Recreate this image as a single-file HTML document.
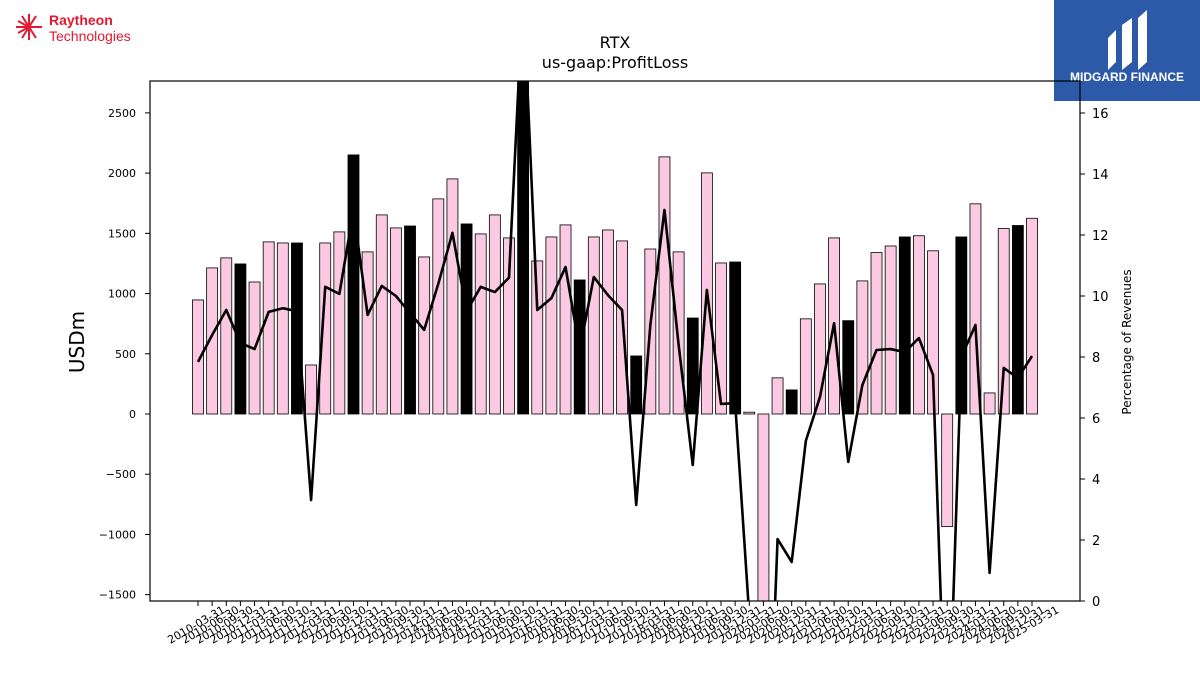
<!DOCTYPE html>
<html><head><meta charset="utf-8"><style>
html,body{margin:0;padding:0;background:#fff;width:1200px;height:675px;overflow:hidden;font-family:"Liberation Sans","DejaVu Sans",sans-serif}
svg{display:block}
</style></head><body>
<svg width="1200" height="675" xmlns="http://www.w3.org/2000/svg" id="svg" font-family="DejaVu Sans, Liberation Sans, sans-serif" overflow="hidden">
<defs><clipPath id="plotclip"><rect x="150" y="81" width="930" height="520"/></clipPath></defs>
<g>
<g transform="translate(29,27)" stroke="#e0192f" stroke-width="2">
<line x1="0" y1="0" x2="-13" y2="0"/><line x1="0" y1="0" x2="-11" y2="-6"/><line x1="0" y1="0" x2="-7" y2="-11"/><line x1="0" y1="0" x2="0" y2="-13"/><line x1="0" y1="0" x2="7" y2="-11"/><line x1="0" y1="0" x2="-11" y2="6"/><line x1="0" y1="0" x2="-7" y2="11"/><line x1="0" y1="0" x2="0" y2="13"/><line x1="0" y1="0" x2="7" y2="11"/><line x1="0" y1="0" x2="13" y2="0"/></g>
<text x="49" y="25" font-size="14" font-weight="bold" fill="#e0192f" font-family="Liberation Sans">Raytheon</text>
<text x="49" y="41" font-size="14" fill="#e0192f" font-family="Liberation Sans">Technologies</text>
</g>
<g>
<rect x="1054" y="0" width="146" height="101" fill="#2d5aa8"/>
<path d="M1108 70 L1108 38 L1116 30 L1116 62 Z M1122 70 L1122 25 L1132 18 L1132 62 Z M1138 70 L1138 18 L1147 10 L1147 62 Z" fill="#fff"/>
<text x="1127" y="81" font-size="12" font-weight="bold" fill="#fff" text-anchor="middle" font-family="Liberation Sans">MIDGARD FINANCE</text>
</g>
<text x="615" y="48" font-size="16" text-anchor="middle">RTX</text>
<text x="615" y="68" font-size="16" text-anchor="middle">us-gaap:ProfitLoss</text>
<text transform="translate(84,342) rotate(-90)" font-size="20" text-anchor="middle">USDm</text>
<text transform="translate(1131,342) rotate(-90)" font-size="12" text-anchor="middle">Percentage of Revenues</text>
<g id="bars" clip-path="url(#plotclip)"></g>
<g id="line" clip-path="url(#plotclip)"></g>
<g id="axes"></g>
<rect x="150" y="81" width="930" height="520" fill="none" stroke="#000" stroke-width="1.2"/>
</svg>
<script>
const categories=["2010-03-31","2010-06-30","2010-09-30","2010-12-31","2011-03-31","2011-06-30","2011-09-30","2011-12-31","2012-03-31","2012-06-30","2012-09-30","2012-12-31","2013-03-31","2013-06-30","2013-09-30","2013-12-31","2014-03-31","2014-06-30","2014-09-30","2014-12-31","2015-03-31","2015-06-30","2015-09-30","2015-12-31","2016-03-31","2016-06-30","2016-09-30","2016-12-31","2017-03-31","2017-06-30","2017-09-30","2017-12-31","2018-03-31","2018-06-30","2018-09-30","2018-12-31","2019-06-30","2019-09-30","2019-12-31","2020-03-31","2020-06-30","2020-09-30","2020-12-31","2021-03-31","2021-06-30","2021-09-30","2021-12-31","2022-03-31","2022-06-30","2022-09-30","2022-12-31","2023-03-31","2023-06-30","2023-09-30","2023-12-31","2024-03-31","2024-06-30","2024-09-30","2024-12-31","2025-03-31"];
const profitLoss=[947,1213,1296,1246,1096,1429,1420,1420,407,1420,1512,2151,1346,1653,1545,1561,1304,1786,1952,1578,1495,1653,1462,3000,1271,1470,1570,1113,1470,1528,1437,482,1370,2135,1346,797,2002,1254,1262,15,-3800,300,200,790,1080,1462,775,1105,1340,1395,1470,1480,1355,-935,1470,1745,175,1540,1565,1625];
const pctRevenue=[7.84,8.72,9.54,8.46,8.26,9.48,9.6,9.5,3.31,10.3,10.07,12.8,9.38,10.33,10.0,9.44,8.89,10.4,12.07,9.5,10.3,10.13,10.6,20,9.54,9.93,10.95,8.23,10.62,10.03,9.54,3.15,9.05,12.82,8.4,4.46,10.2,6.46,6.49,-0.5,-10,2.03,1.28,5.25,6.69,9.11,4.56,7.08,8.23,8.26,8.16,8.62,7.41,-6,8.0,9.05,0.92,7.64,7.31,8.03];
const leftTicks=[-1500,-1000,-500,0,500,1000,1500,2000,2500];
const rightTicks=[0,2,4,6,8,10,12,14,16];
const NS="http://www.w3.org/2000/svg";
const x=i=>198+i*(834/59);
const yL=v=>414-v*0.12044;
const yR=v=>601-v*30.5;
function mk(t,a,p){const e=document.createElementNS(NS,t);for(const k in a)e.setAttribute(k,a[k]);p.appendChild(e);return e;}
const bars=document.getElementById('bars'),line=document.getElementById('line'),axes=document.getElementById('axes');
profitLoss.forEach((v,i)=>{
 const q4=categories[i].endsWith("12-31");
 const y0=yL(0),y1=yL(v);
 const r=mk('rect',{x:x(i)-5.5,y:Math.min(y0,y1),width:11,height:Math.abs(y1-y0),fill:q4?'#000':'#fcc9e3',stroke:'#000','stroke-width':0.8},bars);
 
 
});
const pl=mk('polyline',{points:pctRevenue.map((v,i)=>x(i)+','+yR(v)).join(' '),fill:'none',stroke:'#000','stroke-width':2.6,'stroke-linejoin':'round'},line);


leftTicks.forEach(t=>{
 const y=yL(t);
 mk('line',{x1:145,x2:150,y1:y,y2:y,stroke:'#000'},axes);
 const tx=mk('text',{x:136,y:y+4,'font-size':11,'text-anchor':'end'},axes);
 tx.textContent=t<0?'\u2212'+Math.abs(t):String(t);
 
 
});
rightTicks.forEach(t=>{
 const y=yR(t);
 mk('line',{x1:1080,x2:1085,y1:y,y2:y,stroke:'#000'},axes);
 const tx=mk('text',{x:1092,y:y+5,'font-size':13},axes);
 tx.textContent=String(t);
 
 
});
categories.forEach((c,i)=>{
 const xx=x(i);
 mk('line',{x1:xx,x2:xx,y1:601,y2:606,stroke:'#000'},axes);
 const tx=mk('text',{transform:`translate(${xx},${628}) rotate(-30)`,'font-size':11,'text-anchor':'middle'},axes);
 tx.textContent=c;
 
 
});
</script>
</body></html>
